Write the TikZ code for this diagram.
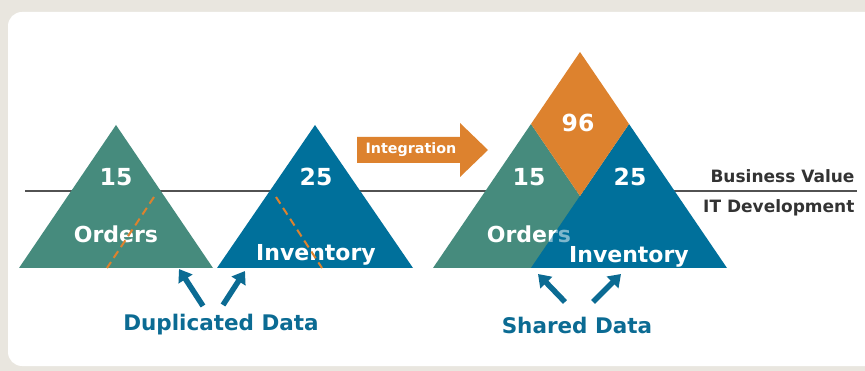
\documentclass[tikz,border=0pt]{standalone}
\usepackage{fontspec}
\setmainfont{DejaVu Sans}
\usetikzlibrary{arrows.meta}
\definecolor{ordgreen}{HTML}{468B7D}
\definecolor{invblue}{HTML}{00709B}
\definecolor{intorange}{HTML}{DD822E}
\definecolor{bgbeige}{HTML}{E9E6DF}
\definecolor{txtgray}{HTML}{333333}
\definecolor{arrblue}{HTML}{0B6B93}

\begin{document}
\begin{tikzpicture}[x=1pt,y=-1pt,
    lbl/.style={text=white,font=\bfseries\fontsize{22}{24}\selectfont},
    num/.style={text=white,font=\bfseries\fontsize{23.5}{26}\selectfont},
    side/.style={text=txtgray,font=\bfseries\fontsize{17}{19}\selectfont,anchor=east},
    datalbl/.style={text=arrblue,font=\bfseries\fontsize{21.5}{24}\selectfont},
    seam/.style={intorange,line width=2pt,dash pattern=on 8pt off 5pt},
    pointer/.style={arrblue,line width=5.5pt,-{Triangle[width=16pt,length=12pt]}}]
    \useasboundingbox (0,0) rectangle (865,371);
    \fill[bgbeige] (0,0) rectangle (865,371);
    \fill[white,rounded corners=14pt] (8,12) rectangle (890,366);
    \draw[txtgray!85,line width=2pt] (25,191) -- (857,191);
    \node[side] (bv) at (858,176) {Business Value};
    \node[side] (itd) at (858,208) {IT Development};

    % separate systems
    \fill[ordgreen] (116,125) -- (19,268) -- (213,268) -- cycle;
    \fill[invblue] (315,125) -- (217,268) -- (413,268) -- cycle;
    \node[num] (n1) at (116,177) {15};
    \node[lbl] (o1) at (116,234) {Orders};
    \node[num] (n2) at (316,177) {25};
    \node[lbl] (i1) at (316,255) {Inventory};
    \draw[seam] (154,197) -- (107,268);
    \draw[seam] (276,197) -- (322,268);

    % integration arrow
    \fill[intorange] (357,137) -- (460,137) -- (460,123) -- (488,150)
        -- (460,177) -- (460,163) -- (357,163) -- cycle;
    \node[text=white,font=\bfseries\fontsize{14.3}{16}\selectfont] (ig) at (411,150) {Integration};

    % integrated system
    \fill[ordgreen] (531,124) -- (433,268) -- (629,268) -- cycle;
    \fill[invblue] (629,124) -- (531,268) -- (727,268) -- cycle;
    \fill[intorange] (580,52) -- (531,124) -- (580,196) -- (629,124) -- cycle;
    \node[num] (n3) at (578,123) {96};
    \node[num] (n4) at (529,177) {15};
    \node[num] (n5) at (630,177) {25};
    \node[lbl] (o2) at (529,234) {Orders};
    \fill[invblue,opacity=.5] (580,196) -- (531,268) -- (629,268) -- cycle;
    \node[lbl] (i2) at (629,257) {Inventory};

    % captions
    \node[datalbl] (dup) at (221,325) {Duplicated Data};
    \node[datalbl] (shr) at (577,325) {Shared Data};
    \coordinate (d1) at (203,306);
    \coordinate (d2) at (223,305);
    \coordinate (s1) at (565,302);
    \coordinate (s2) at (593,302);
    \coordinate (t1) at (179,269);
    \coordinate (t2) at (245,271);
    \coordinate (t3) at (538,274);
    \coordinate (t4) at (621,274);
    \draw[pointer] (d1) -- (t1);
    \draw[pointer] (d2) -- (t2);
    \draw[pointer] (s1) -- (t3);
    \draw[pointer] (s2) -- (t4);
\end{tikzpicture}
\end{document}
